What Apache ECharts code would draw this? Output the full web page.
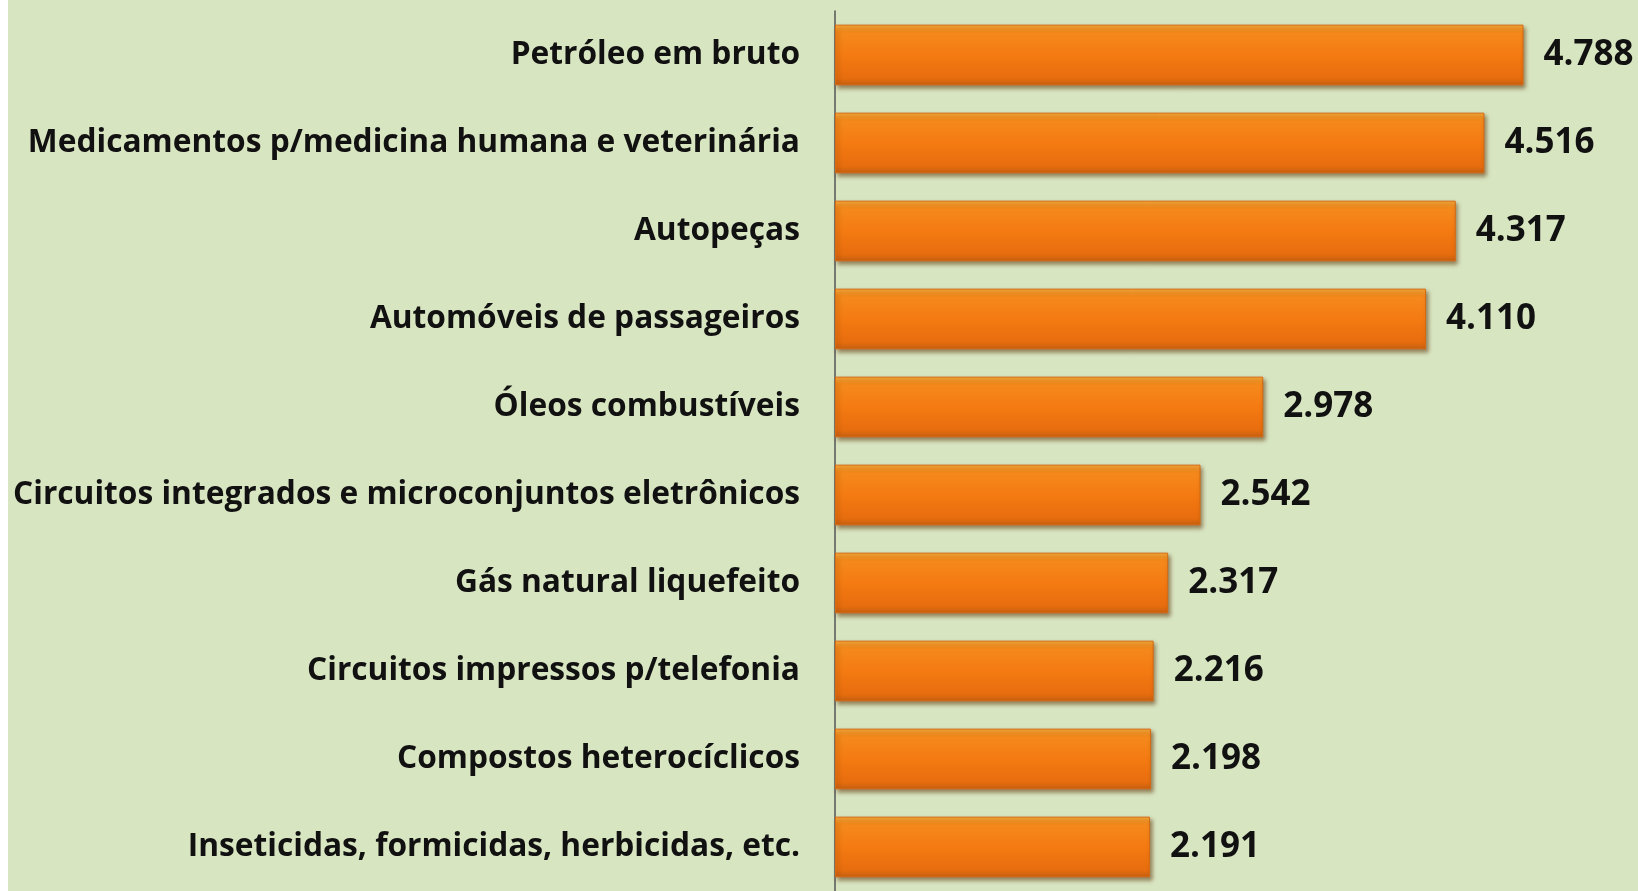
<!DOCTYPE html>
<html>
<head>
<meta charset="utf-8">
<script src="https://cdn.jsdelivr.net/npm/echarts@6/dist/echarts.min.js"></script>
<style>
  html, body { margin: 0; padding: 0; background: #fff; }
  #chart { width: 1638px; height: 891px; }
</style>
</head>
<body>
<div id="chart"></div>
<script>
// categories, top to bottom
const categories = [
  'Petróleo em bruto',
  'Medicamentos p/medicina humana e veterinária',
  'Autopeças',
  'Automóveis de passageiros',
  'Óleos combustíveis',
  'Circuitos integrados e microconjuntos eletrônicos',
  'Gás natural liquefeito',
  'Circuitos impressos p/telefonia',
  'Compostos heterocíclicos',
  'Inseticidas, formicidas, herbicidas, etc.'
];

const values = [4.788, 4.516, 4.317, 4.110, 2.978, 2.542, 2.317, 2.216, 2.198, 2.191];

const chart = echarts.init(document.getElementById('chart'));

chart.setOption({
  backgroundColor: '#ffffff',
  graphic: [{
    type: 'rect',
    left: 8, top: 0,
    shape: { width: 1630, height: 891 },
    style: { fill: '#d8e5c1' },
    z: -10
  }],
  grid: {
    left: 835,
    right: 84,
    top: 11,
    bottom: -12
  },
  xAxis: {
    type: 'value',
    min: 0,
    max: 5,
    show: false
  },
  yAxis: {
    type: 'category',
    inverse: true,
    data: categories,
    axisLine: { lineStyle: { color: '#555', width: 1.5 } },
    axisTick: { show: false },
    axisLabel: {
      color: '#111',
      fontFamily: 'Open Sans',
      fontWeight: 'bold',
      fontSize: 31.7,
      margin: 35,
      lineHeight: 40,
      padding: [8, 0, 0, 0]
    }
  },
  series: [{
    type: 'bar',
    data: values,
    barCategoryGap: '31%',
    itemStyle: {
      color: {
        type: 'linear', x: 0, y: 0, x2: 0, y2: 1,
        colorStops: [
          { offset: 0, color: '#fbae3c' },
          { offset: 0.12, color: '#f58a1c' },
          { offset: 0.5, color: '#f47a12' },
          { offset: 0.88, color: '#e86d0e' },
          { offset: 1, color: '#c65f10' }
        ]
      },
      borderColor: '#d66a12',
      borderWidth: 1,
      shadowColor: 'rgba(90, 50, 10, 0.55)',
      shadowBlur: 4,
      shadowOffsetX: 2,
      shadowOffsetY: 3
    },
    label: {
      show: true,
      position: 'right',
      distance: 20,
      color: '#111',
      fontFamily: 'Open Sans',
      fontWeight: 'bold',
      fontSize: 35,
      lineHeight: 44,
      padding: [8, 0, 0, 0],
      formatter: p => p.value.toFixed(3)
    }
  }]
});
</script>
</body>
</html>
